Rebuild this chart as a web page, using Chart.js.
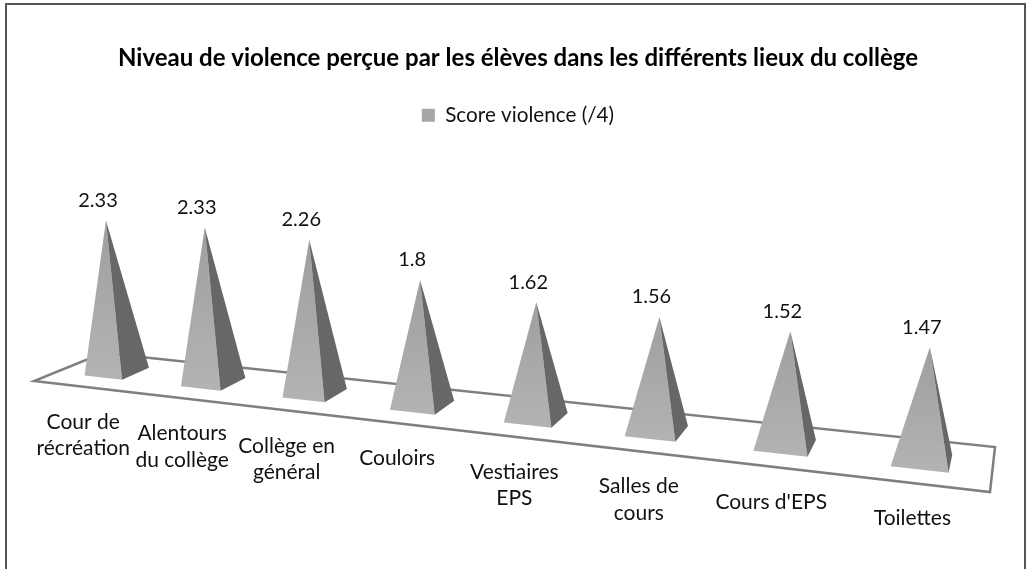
<!DOCTYPE html>
<html>
<head>
<meta charset="utf-8">
<title>Score violence</title>
<script src="https://cdn.jsdelivr.net/npm/chart.js@4/dist/chart.umd.js"></script>
<style>
html, body { margin: 0; padding: 0; background: #fff; overflow: hidden; }
canvas { display: block; }
</style>
</head>
<body>
<canvas id="violenceChart" width="1028" height="569"></canvas>
<script>
var categories = [
    ["Cour de", "récréation"],
    ["Alentours", "du collège"],
    ["Collège en", "général"],
    ["Couloirs"],
    ["Vestiaires", "EPS"],
    ["Salles de", "cours"],
    ["Cours d'EPS"],
    ["Toilettes"]
];
var scores = [2.33, 2.33, 2.26, 1.8, 1.62, 1.56, 1.52, 1.47];
var seriesName = "Score violence (/4)";
var chartTitle = "Niveau de violence perçue par les élèves dans les différents lieux du collège";

var fontName = "Lato, 'Open Sans', sans-serif";

// the floor of the 3D view: front left, front right, back right, back left
var floor = [[34, 381], [990, 492], [995, 447], [103, 353]];

// perspective from the unit square (u along the row, v into the depth) to the screen
var sx = floor[0][0] - floor[1][0] + floor[2][0] - floor[3][0];
var sy = floor[0][1] - floor[1][1] + floor[2][1] - floor[3][1];
var d1x = floor[1][0] - floor[2][0], d1y = floor[1][1] - floor[2][1];
var d2x = floor[3][0] - floor[2][0], d2y = floor[3][1] - floor[2][1];
var det = d1x * d2y - d1y * d2x;
var g = (sx * d2y - sy * d2x) / det;
var h = (d1x * sy - d1y * sx) / det;

function denom(u, v) {
    return 1 + g * u + h * v;
}

function project(u, v) {
    var w = denom(u, v);
    return {
        x: 1 + ((floor[1][0] - floor[0][0] + g * floor[1][0]) * u + (floor[3][0] - floor[0][0] + h * floor[3][0]) * v + floor[0][0]) / w,
        y: ((floor[1][1] - floor[0][1] + g * floor[1][1]) * u + (floor[3][1] - floor[0][1] + h * floor[3][1]) * v + floor[0][1]) / w
    };
}

function polygon(ctx, pts, fill) {
    ctx.beginPath();
    ctx.moveTo(pts[0].x, pts[0].y);
    for (var i = 1; i < pts.length; i++) ctx.lineTo(pts[i].x, pts[i].y);
    ctx.closePath();
    ctx.fillStyle = fill;
    ctx.fill();
}

var pyramidPlugin = {
    id: "pyramids",
    beforeDraw: function (chart) {
        // frame of the picture, its bottom edge is cut off
        var ctx = chart.ctx;
        ctx.save();
        ctx.strokeStyle = "#555";
        ctx.lineWidth = 2;
        ctx.beginPath();
        ctx.moveTo(6, 575);
        ctx.lineTo(6, 4);
        ctx.lineTo(1025, 4);
        ctx.lineTo(1025, 575);
        ctx.stroke();
        ctx.restore();
    },
    beforeDatasetDraw: function () {
        return false;
    },
    afterDatasetsDraw: function (chart) {
        var ctx = chart.ctx;
        var area = chart.chartArea;
        var bars = chart.getDatasetMeta(0).data;
        var heightFull = 324; // height of the axis maximum, with the perspective flattened below
        var depth = 0.205;

        ctx.save();
        ctx.strokeStyle = "#7f7f7f";
        ctx.lineWidth = 2.5;
        ctx.lineJoin = "miter";
        ctx.beginPath();
        ctx.moveTo(floor[0][0], floor[0][1]);
        for (var f = 1; f < 4; f++) ctx.lineTo(floor[f][0], floor[f][1]);
        ctx.closePath();
        ctx.stroke();

        bars.forEach(function (bar, i) {
            var u = (bar.x - area.left) / area.width;
            var half = bar.width / 2 / area.width;
            var bow = 10 * u * (1 - u); // pyramids sit a bit to the right mid row
            function onFloor(pu, pv) {
                var p = project(pu, pv);
                p.x += bow;
                return p;
            }
            var centre = project(u, 0.5);
            var foot = onFloor(u, 0.5);
            var left = onFloor(u - half, 0.5 - depth);
            var front = onFloor(u + half, 0.5 - depth);
            var right = onFloor(u + half, 0.5 + depth);
            var lift = (bar.base - bar.y) / area.height * heightFull / (denom(u, 0.5) + 0.2266);
            var apex = { x: foot.x + (foot.x - 525) * 0.00018 * lift, y: foot.y - lift };

            var grad = ctx.createLinearGradient(0, apex.y, 0, front.y);
            grad.addColorStop(0, "#9f9f9f");
            grad.addColorStop(1, "#b3b3b3");
            polygon(ctx, [left, front, apex], grad);
            polygon(ctx, [front, right, apex], "#676767");

            // value above the tip
            ctx.fillStyle = "#111";
            ctx.textAlign = "center";
            ctx.textBaseline = "middle";
            ctx.font = "20px " + fontName;
            ctx.fillText(String(scores[i]), apex.x - 8, apex.y - 20);

            // category under the floor
            var lines = categories[i];
            ctx.font = "21px " + fontName;
            for (var l = 0; l < lines.length; l++) {
                ctx.fillText(lines[l], centre.x - 35 + 28 * u, centre.y + 50 + 8 * u + l * 26.5);
            }
        });
        ctx.restore();
    }
};

new Chart(document.getElementById("violenceChart"), {
    type: "bar",
    data: {
        labels: categories,
        datasets: [{
            label: seriesName,
            data: scores,
            backgroundColor: "#a6a6a6",
            barPercentage: 0.4,
            categoryPercentage: 1
        }]
    },
    options: {
        responsive: false,
        animation: false,
        layout: { padding: { left: 8, top: 44 } },
        plugins: {
            title: {
                display: true,
                text: chartTitle,
                color: "#000",
                font: { family: fontName, size: 24, weight: "bold" },
                padding: { top: 0, bottom: 22 }
            },
            legend: {
                position: "top",
                labels: {
                    boxWidth: 13,
                    boxHeight: 13,
                    color: "#111",
                    font: { family: fontName, size: 20.7 }
                }
            },
            tooltip: { enabled: false }
        },
        scales: {
            x: { display: false, offset: true },
            y: { display: false, min: 0, max: 4 }
        }
    },
    plugins: [pyramidPlugin]
});
</script>
</body>
</html>
